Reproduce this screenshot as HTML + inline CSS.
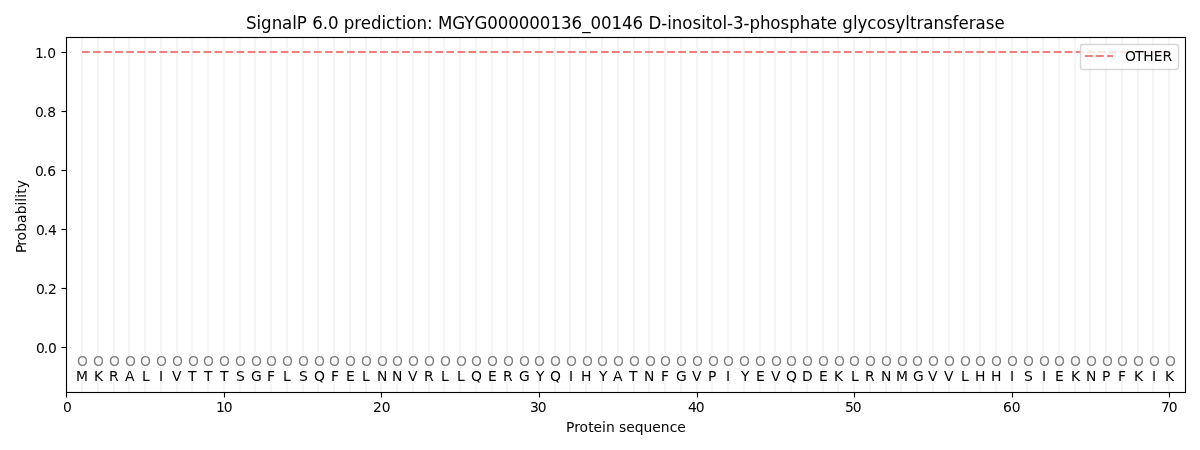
<!DOCTYPE html>
<html lang="en"><head><meta charset="utf-8"><title>SignalP 6.0 prediction</title>
<style>html,body{margin:0;padding:0;background:#fff;overflow:hidden}svg{display:block;will-change:transform}#labels{mix-blend-mode:darken}text{font-family:"DejaVu Sans","Liberation Sans",sans-serif;fill:#000}.t10{font-size:13.889px}.t12{font-size:16.667px}.g text{fill:#808080}</style></head><body>
<svg width="1200" height="450" viewBox="0 0 1200 450">
<rect width="1200" height="450" fill="#fff"/>
<g stroke="#f5f5f5" stroke-width="2.2" fill="none">
<path d="M82 37.5V392.5M98 37.5V392.5M114 37.5V392.5M129 37.5V392.5M145 37.5V392.5M161 37.5V392.5M177 37.5V392.5M192 37.5V392.5M208 37.5V392.5M224 37.5V392.5M240 37.5V392.5M255 37.5V392.5M271 37.5V392.5M287 37.5V392.5M303 37.5V392.5M318 37.5V392.5M334 37.5V392.5M350 37.5V392.5M366 37.5V392.5M381 37.5V392.5M397 37.5V392.5M413 37.5V392.5M429 37.5V392.5M444 37.5V392.5M460 37.5V392.5M476 37.5V392.5M492 37.5V392.5M507 37.5V392.5M523 37.5V392.5M539 37.5V392.5M555 37.5V392.5M570 37.5V392.5M586 37.5V392.5M602 37.5V392.5M618 37.5V392.5M634 37.5V392.5M649 37.5V392.5M665 37.5V392.5M681 37.5V392.5M697 37.5V392.5M712 37.5V392.5M728 37.5V392.5M744 37.5V392.5M760 37.5V392.5M775 37.5V392.5M791 37.5V392.5M807 37.5V392.5M823 37.5V392.5M838 37.5V392.5M854 37.5V392.5M870 37.5V392.5M886 37.5V392.5M901 37.5V392.5M917 37.5V392.5M933 37.5V392.5M949 37.5V392.5M964 37.5V392.5M980 37.5V392.5M996 37.5V392.5M1012 37.5V392.5M1027 37.5V392.5M1043 37.5V392.5M1059 37.5V392.5M1075 37.5V392.5M1090 37.5V392.5M1106 37.5V392.5M1122 37.5V392.5M1138 37.5V392.5M1153 37.5V392.5M1169 37.5V392.5"/></g>
<g fill="#f08080"><rect x="82" y="50.958" width="7.708" height="2.083"/><rect x="93.042" y="50.958" width="7.708" height="2.083"/><rect x="104.083" y="50.958" width="7.708" height="2.083"/><rect x="115.125" y="50.958" width="7.708" height="2.083"/><rect x="126.166" y="50.958" width="7.708" height="2.083"/><rect x="137.208" y="50.958" width="7.708" height="2.083"/><rect x="148.25" y="50.958" width="7.708" height="2.083"/><rect x="159.291" y="50.958" width="7.708" height="2.083"/><rect x="170.333" y="50.958" width="7.708" height="2.083"/><rect x="181.374" y="50.958" width="7.708" height="2.083"/><rect x="192.416" y="50.958" width="7.708" height="2.083"/><rect x="203.458" y="50.958" width="7.708" height="2.083"/><rect x="214.499" y="50.958" width="7.708" height="2.083"/><rect x="225.541" y="50.958" width="7.708" height="2.083"/><rect x="236.582" y="50.958" width="7.708" height="2.083"/><rect x="247.624" y="50.958" width="7.708" height="2.083"/><rect x="258.666" y="50.958" width="7.708" height="2.083"/><rect x="269.707" y="50.958" width="7.708" height="2.083"/><rect x="280.749" y="50.958" width="7.708" height="2.083"/><rect x="291.79" y="50.958" width="7.708" height="2.083"/><rect x="302.832" y="50.958" width="7.708" height="2.083"/><rect x="313.874" y="50.958" width="7.708" height="2.083"/><rect x="324.915" y="50.958" width="7.708" height="2.083"/><rect x="335.957" y="50.958" width="7.708" height="2.083"/><rect x="346.998" y="50.958" width="7.708" height="2.083"/><rect x="358.04" y="50.958" width="7.708" height="2.083"/><rect x="369.082" y="50.958" width="7.708" height="2.083"/><rect x="380.123" y="50.958" width="7.708" height="2.083"/><rect x="391.165" y="50.958" width="7.708" height="2.083"/><rect x="402.206" y="50.958" width="7.708" height="2.083"/><rect x="413.248" y="50.958" width="7.708" height="2.083"/><rect x="424.29" y="50.958" width="7.708" height="2.083"/><rect x="435.331" y="50.958" width="7.708" height="2.083"/><rect x="446.373" y="50.958" width="7.708" height="2.083"/><rect x="457.414" y="50.958" width="7.708" height="2.083"/><rect x="468.456" y="50.958" width="7.708" height="2.083"/><rect x="479.498" y="50.958" width="7.708" height="2.083"/><rect x="490.539" y="50.958" width="7.708" height="2.083"/><rect x="501.581" y="50.958" width="7.708" height="2.083"/><rect x="512.622" y="50.958" width="7.708" height="2.083"/><rect x="523.664" y="50.958" width="7.708" height="2.083"/><rect x="534.706" y="50.958" width="7.708" height="2.083"/><rect x="545.747" y="50.958" width="7.708" height="2.083"/><rect x="556.789" y="50.958" width="7.708" height="2.083"/><rect x="567.83" y="50.958" width="7.708" height="2.083"/><rect x="578.872" y="50.958" width="7.708" height="2.083"/><rect x="589.914" y="50.958" width="7.708" height="2.083"/><rect x="600.955" y="50.958" width="7.708" height="2.083"/><rect x="611.997" y="50.958" width="7.708" height="2.083"/><rect x="623.038" y="50.958" width="7.708" height="2.083"/><rect x="634.08" y="50.958" width="7.708" height="2.083"/><rect x="645.122" y="50.958" width="7.708" height="2.083"/><rect x="656.163" y="50.958" width="7.708" height="2.083"/><rect x="667.205" y="50.958" width="7.708" height="2.083"/><rect x="678.246" y="50.958" width="7.708" height="2.083"/><rect x="689.288" y="50.958" width="7.708" height="2.083"/><rect x="700.33" y="50.958" width="7.708" height="2.083"/><rect x="711.371" y="50.958" width="7.708" height="2.083"/><rect x="722.413" y="50.958" width="7.708" height="2.083"/><rect x="733.454" y="50.958" width="7.708" height="2.083"/><rect x="744.496" y="50.958" width="7.708" height="2.083"/><rect x="755.538" y="50.958" width="7.708" height="2.083"/><rect x="766.579" y="50.958" width="7.708" height="2.083"/><rect x="777.621" y="50.958" width="7.708" height="2.083"/><rect x="788.662" y="50.958" width="7.708" height="2.083"/><rect x="799.704" y="50.958" width="7.708" height="2.083"/><rect x="810.746" y="50.958" width="7.708" height="2.083"/><rect x="821.787" y="50.958" width="7.708" height="2.083"/><rect x="832.829" y="50.958" width="7.708" height="2.083"/><rect x="843.87" y="50.958" width="7.708" height="2.083"/><rect x="854.912" y="50.958" width="7.708" height="2.083"/><rect x="865.954" y="50.958" width="7.708" height="2.083"/><rect x="876.995" y="50.958" width="7.708" height="2.083"/><rect x="888.037" y="50.958" width="7.708" height="2.083"/><rect x="899.078" y="50.958" width="7.708" height="2.083"/><rect x="910.12" y="50.958" width="7.708" height="2.083"/><rect x="921.162" y="50.958" width="7.708" height="2.083"/><rect x="932.203" y="50.958" width="7.708" height="2.083"/><rect x="943.245" y="50.958" width="7.708" height="2.083"/><rect x="954.286" y="50.958" width="7.708" height="2.083"/><rect x="965.328" y="50.958" width="7.708" height="2.083"/><rect x="976.37" y="50.958" width="7.708" height="2.083"/><rect x="987.411" y="50.958" width="7.708" height="2.083"/><rect x="998.453" y="50.958" width="7.708" height="2.083"/><rect x="1009.494" y="50.958" width="7.708" height="2.083"/><rect x="1020.536" y="50.958" width="7.708" height="2.083"/><rect x="1031.578" y="50.958" width="7.708" height="2.083"/><rect x="1042.619" y="50.958" width="7.708" height="2.083"/><rect x="1053.661" y="50.958" width="7.708" height="2.083"/><rect x="1064.702" y="50.958" width="7.708" height="2.083"/><rect x="1075.744" y="50.958" width="7.708" height="2.083"/><rect x="1086.786" y="50.958" width="7.708" height="2.083"/><rect x="1097.827" y="50.958" width="7.708" height="2.083"/><rect x="1108.869" y="50.958" width="7.708" height="2.083"/><rect x="1119.91" y="50.958" width="7.708" height="2.083"/><rect x="1130.952" y="50.958" width="7.708" height="2.083"/><rect x="1141.994" y="50.958" width="7.708" height="2.083"/><rect x="1153.035" y="50.958" width="7.708" height="2.083"/><rect x="1164.077" y="50.958" width="5.167" height="2.083"/></g>
<g stroke="#000" stroke-width="1.1111" fill="none">
<rect x="65.944" y="392.5" width="1.1111" height="5" fill="#000" stroke="none"/>
<rect x="223.944" y="392.5" width="1.1111" height="5" fill="#000" stroke="none"/>
<rect x="380.944" y="392.5" width="1.1111" height="5" fill="#000" stroke="none"/>
<rect x="538.944" y="392.5" width="1.1111" height="5" fill="#000" stroke="none"/>
<rect x="696.944" y="392.5" width="1.1111" height="5" fill="#000" stroke="none"/>
<rect x="853.944" y="392.5" width="1.1111" height="5" fill="#000" stroke="none"/>
<rect x="1011.944" y="392.5" width="1.1111" height="5" fill="#000" stroke="none"/>
<rect x="1168.944" y="392.5" width="1.1111" height="5" fill="#000" stroke="none"/>
<rect x="61.5" y="346.944" width="5" height="1.1111" fill="#000" stroke="none"/>
<rect x="61.5" y="287.944" width="5" height="1.1111" fill="#000" stroke="none"/>
<rect x="61.5" y="228.944" width="5" height="1.1111" fill="#000" stroke="none"/>
<rect x="61.5" y="169.944" width="5" height="1.1111" fill="#000" stroke="none"/>
<rect x="61.5" y="110.944" width="5" height="1.1111" fill="#000" stroke="none"/>
<rect x="61.5" y="51.944" width="5" height="1.1111" fill="#000" stroke="none"/>
<rect x="66.5" y="37.5" width="1119" height="355" stroke-linejoin="miter"/></g>
<rect x="1080.5" y="44.5" width="98" height="25" rx="2.78" ry="2.78" fill="#fff" fill-opacity=".8" stroke="#ccc" stroke-opacity=".8" stroke-width="1.3889"/>
<g fill="#f08080"><rect x="1085" y="54.958" width="7.708" height="2.083"/><rect x="1096.042" y="54.958" width="7.708" height="2.083"/><rect x="1107.083" y="54.958" width="5.917" height="2.083"/></g>
<g id="labels">
<g class="g">
<text class="t10" x="77" y="366">O</text>
<text class="t10" x="93" y="366">O</text>
<text class="t10" x="109" y="366">O</text>
<text class="t10" x="125" y="366">O</text>
<text class="t10" x="140" y="366">O</text>
<text class="t10" x="156" y="366">O</text>
<text class="t10" x="172" y="366">O</text>
<text class="t10" x="188" y="366">O</text>
<text class="t10" x="203" y="366">O</text>
<text class="t10" x="219" y="366">O</text>
<text class="t10" x="235" y="366">O</text>
<text class="t10" x="251" y="366">O</text>
<text class="t10" x="266" y="366">O</text>
<text class="t10" x="282" y="366">O</text>
<text class="t10" x="298" y="366">O</text>
<text class="t10" x="314" y="366">O</text>
<text class="t10" x="329" y="366">O</text>
<text class="t10" x="345" y="366">O</text>
<text class="t10" x="361" y="366">O</text>
<text class="t10" x="377" y="366">O</text>
<text class="t10" x="392" y="366">O</text>
<text class="t10" x="408" y="366">O</text>
<text class="t10" x="424" y="366">O</text>
<text class="t10" x="440" y="366">O</text>
<text class="t10" x="456" y="366">O</text>
<text class="t10" x="471" y="366">O</text>
<text class="t10" x="487" y="366">O</text>
<text class="t10" x="503" y="366">O</text>
<text class="t10" x="519" y="366">O</text>
<text class="t10" x="534" y="366">O</text>
<text class="t10" x="550" y="366">O</text>
<text class="t10" x="566" y="366">O</text>
<text class="t10" x="582" y="366">O</text>
<text class="t10" x="597" y="366">O</text>
<text class="t10" x="613" y="366">O</text>
<text class="t10" x="629" y="366">O</text>
<text class="t10" x="645" y="366">O</text>
<text class="t10" x="660" y="366">O</text>
<text class="t10" x="676" y="366">O</text>
<text class="t10" x="692" y="366">O</text>
<text class="t10" x="708" y="366">O</text>
<text class="t10" x="723" y="366">O</text>
<text class="t10" x="739" y="366">O</text>
<text class="t10" x="755" y="366">O</text>
<text class="t10" x="771" y="366">O</text>
<text class="t10" x="786" y="366">O</text>
<text class="t10" x="802" y="366">O</text>
<text class="t10" x="818" y="366">O</text>
<text class="t10" x="834" y="366">O</text>
<text class="t10" x="849" y="366">O</text>
<text class="t10" x="865" y="366">O</text>
<text class="t10" x="881" y="366">O</text>
<text class="t10" x="897" y="366">O</text>
<text class="t10" x="912" y="366">O</text>
<text class="t10" x="928" y="366">O</text>
<text class="t10" x="944" y="366">O</text>
<text class="t10" x="960" y="366">O</text>
<text class="t10" x="975" y="366">O</text>
<text class="t10" x="991" y="366">O</text>
<text class="t10" x="1007" y="366">O</text>
<text class="t10" x="1023" y="366">O</text>
<text class="t10" x="1039" y="366">O</text>
<text class="t10" x="1054" y="366">O</text>
<text class="t10" x="1070" y="366">O</text>
<text class="t10" x="1086" y="366">O</text>
<text class="t10" x="1102" y="366">O</text>
<text class="t10" x="1117" y="366">O</text>
<text class="t10" x="1133" y="366">O</text>
<text class="t10" x="1149" y="366">O</text>
<text class="t10" x="1165" y="366">O</text>
</g>
<g>
<text class="t10" x="63" y="412">0</text>
<text class="t10" x="216 223.625" y="412">10</text>
<text class="t10" x="373 381.75" y="412">20</text>
<text class="t10" x="530 537.75" y="412">30</text>
<text class="t10" x="688 695.75" y="412">40</text>
<text class="t10" x="845 852.75" y="412">50</text>
<text class="t10" x="1003 1011.625" y="412">60</text>
<text class="t10" x="1161 1168.75" y="412">70</text>
<text class="t10" x="566 574.125 579.375 588.125 593.375 601.875 606 614.75 618.875 626.25 634.75 643.375 652.125 660.625 669.625 677.25" y="432">Protein sequence</text>
<text class="t10" x="36 43.75 47.875" y="353">0.0</text>
<text class="t10" x="36 43.75 47.875" y="294">0.2</text>
<text class="t10" x="36 43.75 47.875" y="235">0.4</text>
<text class="t10" x="35 42.75 47.125" y="176">0.6</text>
<text class="t10" x="35 42.75 47.125" y="117">0.8</text>
<text class="t10" x="35 42.625 47.25" y="58">1.0</text>
<text class="t10" x="76" y="381">M</text>
<text class="t10" x="94" y="381">K</text>
<text class="t10" x="109" y="381">R</text>
<text class="t10" x="125" y="381">A</text>
<text class="t10" x="142" y="381">L</text>
<text class="t10" x="159" y="381">I</text>
<text class="t10" x="172" y="381">V</text>
<text class="t10" x="188" y="381">T</text>
<text class="t10" x="204" y="381">T</text>
<text class="t10" x="220" y="381">T</text>
<text class="t10" x="236" y="381">S</text>
<text class="t10" x="251" y="381">G</text>
<text class="t10" x="267" y="381">F</text>
<text class="t10" x="283" y="381">L</text>
<text class="t10" x="299" y="381">S</text>
<text class="t10" x="314" y="381">Q</text>
<text class="t10" x="331" y="381">F</text>
<text class="t10" x="346" y="381">E</text>
<text class="t10" x="362" y="381">L</text>
<text class="t10" x="377" y="381">N</text>
<text class="t10" x="392" y="381">N</text>
<text class="t10" x="408" y="381">V</text>
<text class="t10" x="424" y="381">R</text>
<text class="t10" x="441" y="381">L</text>
<text class="t10" x="457" y="381">L</text>
<text class="t10" x="471" y="381">Q</text>
<text class="t10" x="488" y="381">E</text>
<text class="t10" x="503" y="381">R</text>
<text class="t10" x="519" y="381">G</text>
<text class="t10" x="536" y="381">Y</text>
<text class="t10" x="550" y="381">Q</text>
<text class="t10" x="569" y="381">I</text>
<text class="t10" x="581" y="381">H</text>
<text class="t10" x="599" y="381">Y</text>
<text class="t10" x="613" y="381">A</text>
<text class="t10" x="629" y="381">T</text>
<text class="t10" x="644" y="381">N</text>
<text class="t10" x="661" y="381">F</text>
<text class="t10" x="676" y="381">G</text>
<text class="t10" x="692" y="381">V</text>
<text class="t10" x="708" y="381">P</text>
<text class="t10" x="726" y="381">I</text>
<text class="t10" x="741" y="381">Y</text>
<text class="t10" x="756" y="381">E</text>
<text class="t10" x="771" y="381">V</text>
<text class="t10" x="786" y="381">Q</text>
<text class="t10" x="802" y="381">D</text>
<text class="t10" x="819" y="381">E</text>
<text class="t10" x="834" y="381">K</text>
<text class="t10" x="851" y="381">L</text>
<text class="t10" x="865" y="381">R</text>
<text class="t10" x="881" y="381">N</text>
<text class="t10" x="896" y="381">M</text>
<text class="t10" x="913" y="381">G</text>
<text class="t10" x="928" y="381">V</text>
<text class="t10" x="944" y="381">V</text>
<text class="t10" x="961" y="381">L</text>
<text class="t10" x="975" y="381">H</text>
<text class="t10" x="991" y="381">H</text>
<text class="t10" x="1010" y="381">I</text>
<text class="t10" x="1024" y="381">S</text>
<text class="t10" x="1042" y="381">I</text>
<text class="t10" x="1055" y="381">E</text>
<text class="t10" x="1071" y="381">K</text>
<text class="t10" x="1086" y="381">N</text>
<text class="t10" x="1102" y="381">P</text>
<text class="t10" x="1118" y="381">F</text>
<text class="t10" x="1134" y="381">K</text>
<text class="t10" x="1152" y="381">I</text>
<text class="t10" x="1165" y="381">K</text>
<text class="t12" transform="translate(0 29) scale(1 1.083)" x="246 256.5 261.125 271.875 282.125 292.25 296.875 307 312.25 322.75 328 338.5 343.75 354.25 360.75 371 381.5 386.125 395.25 401.75 406.375 416.5 427 432.75 438 452.375 464.375 474.5 487.375 497.875 508.375 518.875 529.375 539.875 550.625 561 571.625 582.375 590.5 601 611.5 622.125 632.625 643.125 648.625 661.25 667.375 671.75 682.25 692.625 701.375 705.75 712.25 722.625 727 733.125 743.5 749.625 760.125 770.375 780.5 789.25 799.75 810.25 820.625 826.875 837.125 842.375 853.125 857.5 867.375 876.5 886.875 895.625 905.25 910.125 916.625 923.25 933.625 944.125 952.625 958.5 968.75 975.625 985.75 994.5" y="0">SignalP 6.0 prediction: MGYG000000136_00146 D-inositol-3-phosphate glycosyltransferase</text>
</g>
<text class="t10" transform="translate(26 253) rotate(-90)" x="0 7.375 12.625 21.375 30 38.875 47.5 51.375 55.25 59.375 64.875" y="0">Probability</text>
<text class="t10" x="1125 1134.875 1143.125 1153.75 1162.5" y="61">OTHER</text>
</g>
</svg></body></html>
